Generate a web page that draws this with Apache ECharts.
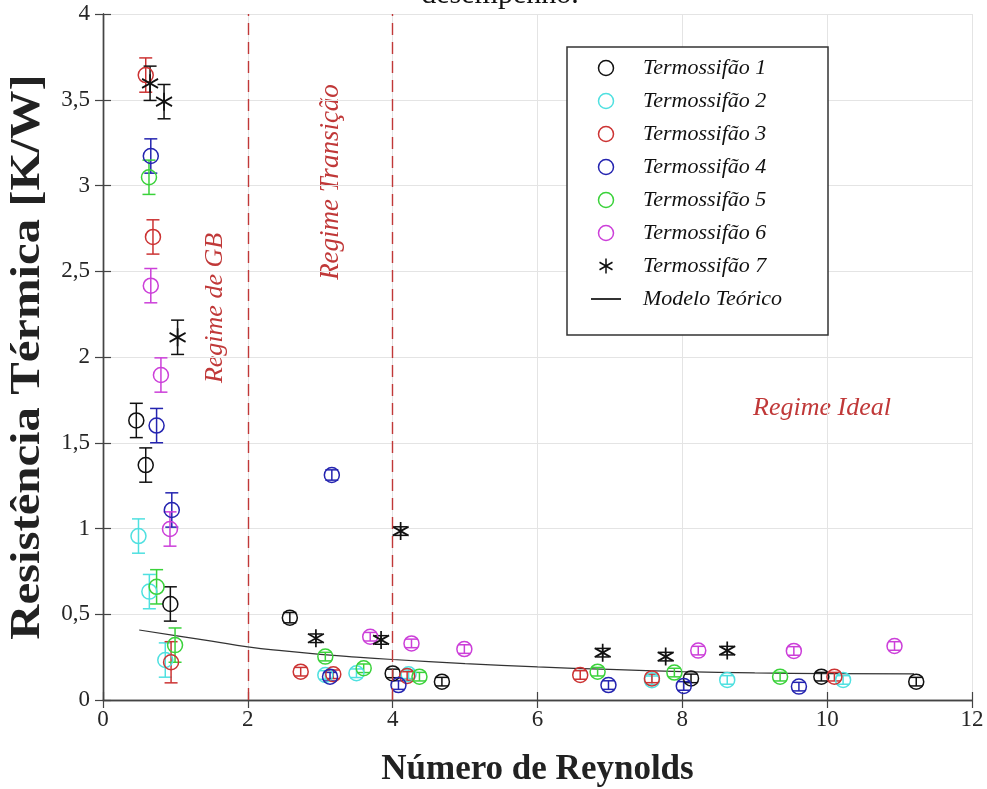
<!DOCTYPE html>
<html>
<head>
<meta charset="utf-8">
<script src="https://cdn.jsdelivr.net/npm/echarts@6/dist/echarts.min.js"></script>
<style>
  html, body { margin: 0; padding: 0; background: #ffffff; }
  #chart { width: 987px; height: 789px; }
</style>
</head>
<body>
<div id="chart"></div>
<script>
// Measured points: [Reynolds number, thermal resistance K/W, uncertainty]
const termo1 = [[0.46, 1.63, 0.1], [0.59, 1.37, 0.1], [0.93, 0.56, 0.1], [2.58, 0.48, 0.03], [4.0, 0.155, 0.025], [4.68, 0.107, 0.025], [8.12, 0.126, 0.025], [9.92, 0.136, 0.025], [11.23, 0.107, 0.025]];
const termo2 = [[0.49, 0.956, 0.1], [0.64, 0.632, 0.1], [0.86, 0.233, 0.1], [3.07, 0.146, 0.025], [3.50, 0.156, 0.025], [4.22, 0.15, 0.025], [7.58, 0.115, 0.025], [8.62, 0.117, 0.025], [10.22, 0.117, 0.025]];
const termo3 = [[0.59, 3.644, 0.1], [0.69, 2.70, 0.1], [0.94, 0.22, 0.12], [2.73, 0.165, 0.025], [3.18, 0.15, 0.025], [4.20, 0.14, 0.025], [6.59, 0.146, 0.025], [7.58, 0.126, 0.025], [10.10, 0.136, 0.025]];
const termo4 = [[0.66, 3.172, 0.1], [0.74, 1.60, 0.1], [0.95, 1.108, 0.1], [3.16, 1.312, 0.03], [3.135, 0.136, 0.025], [4.08, 0.087, 0.025], [6.98, 0.087, 0.025], [8.02, 0.082, 0.025], [9.61, 0.078, 0.025]];
const termo5 = [[0.635, 3.048, 0.1], [0.74, 0.66, 0.1], [0.995, 0.32, 0.1], [3.07, 0.253, 0.025], [3.60, 0.185, 0.025], [4.37, 0.136, 0.025], [6.83, 0.165, 0.025], [7.89, 0.16, 0.025], [9.35, 0.136, 0.025]];
const termo6 = [[0.66, 2.416, 0.1], [0.80, 1.895, 0.1], [0.925, 0.997, 0.1], [3.69, 0.369, 0.025], [4.26, 0.33, 0.025], [4.99, 0.297, 0.025], [8.22, 0.288, 0.025], [9.54, 0.286, 0.025], [10.93, 0.315, 0.025]];
const termo7 = [[0.65, 3.596, 0.1], [0.843, 3.489, 0.1], [1.03, 2.115, 0.1], [2.94, 0.36, 0.025], [3.84, 0.35, 0.025], [4.11, 0.985, 0.025], [6.90, 0.276, 0.025], [7.77, 0.253, 0.025], [8.62, 0.288, 0.025]];

// Theoretical model curve
const modeloX = [0.5, 1, 1.5, 2, 2.5, 3, 3.5, 4, 5, 6, 7, 8, 9, 10, 11.2];
const modeloY = [0.408, 0.375, 0.343, 0.31, 0.286, 0.266, 0.25, 0.236, 0.212, 0.193, 0.178, 0.166, 0.158, 0.154, 0.152];

// Regime boundaries (Reynolds)
const limitesRegime = [2, 4];

const seriesNames = ['Termossifão 1', 'Termossifão 2', 'Termossifão 3', 'Termossifão 4', 'Termossifão 5', 'Termossifão 6', 'Termossifão 7'];
const seriesData = [termo1, termo2, termo3, termo4, termo5, termo6, termo7];
const seriesColors = ['#111111', '#4fe0e0', '#cc3333', '#2424b0', '#3ad23a', '#cc3fd9', '#111111'];

const SERIF = "'Liberation Serif', 'Times New Roman', serif";
const REGIME_RED = '#c03838';
const ASTERISK = 'path://M0,-10L0,10M-8.66,-5L8.66,5M-8.66,5L8.66,-5';

const chart = echarts.init(document.getElementById('chart'));

function errorBarSeries(data, color) {
  return {
    type: 'custom',
    silent: true,
    z: 3,
    encode: { x: 0, y: 1 },
    data: data,
    renderItem: function (params, api) {
      const x = api.value(0), y = api.value(1), e = api.value(2);
      const top = api.coord([x, y + e]);
      const bot = api.coord([x, y - e]);
      const cw = 6.5;
      const style = { stroke: color, lineWidth: 1.5, fill: null };
      return {
        type: 'group',
        children: [
          { type: 'line', shape: { x1: top[0], y1: top[1], x2: bot[0], y2: bot[1] }, style: style },
          { type: 'line', shape: { x1: top[0] - cw, y1: top[1], x2: top[0] + cw, y2: top[1] }, style: style },
          { type: 'line', shape: { x1: bot[0] - cw, y1: bot[1], x2: bot[0] + cw, y2: bot[1] }, style: style }
        ]
      };
    }
  };
}

const series = [];
seriesData.forEach(function (d, i) {
  series.push(errorBarSeries(d, seriesColors[i]));
});
seriesData.forEach(function (d, i) {
  const isStar = i === 6;
  series.push({
    name: seriesNames[i],
    type: 'scatter',
    z: 4,
    symbol: isStar ? ASTERISK : 'circle',
    symbolSize: isStar ? [16, 18] : 15,
    data: d.map(function (p) { return [p[0], p[1]]; }),
    itemStyle: {
      color: isStar ? seriesColors[i] : 'rgba(0,0,0,0)',
      borderColor: seriesColors[i],
      borderWidth: isStar ? 1.8 : 1.5,
      opacity: 1
    },
    emphasis: { disabled: true }
  });
});
series.push({
  name: 'Modelo Teórico',
  type: 'line',
  z: 2,
  smooth: true,
  symbol: 'none',
  data: modeloX.map(function (x, k) { return [x, modeloY[k]]; }),
  lineStyle: { color: '#333333', width: 1.2 },
  itemStyle: { color: '#333333' },
  markLine: {
    silent: true,
    symbol: ['none', 'none'],
    label: { show: false },
    lineStyle: { color: REGIME_RED, type: [12, 7], width: 1.4 },
    data: limitesRegime.map(function (v) { return { xAxis: v }; })
  }
});

const axisLabelStyle = { fontFamily: SERIF, fontSize: 23, color: '#262626' };
const frameLine = { show: true, lineStyle: { color: '#444444', width: 1.4 } };
const innerTick = { show: true, inside: true, length: 8, lineStyle: { color: '#444444', width: 1.2 } };

const legendNames = seriesNames.map(function (n) { return { name: n }; });
legendNames.push({ name: 'Modelo Teórico', itemStyle: { color: 'rgba(0,0,0,0)', borderWidth: 0 } });

chart.setOption({
  backgroundColor: '#ffffff',
  animation: false,
  grid: { left: 103, right: 15, top: 14, bottom: 89, containLabel: false, outerBoundsMode: 'none' },
  xAxis: [{
    type: 'value', min: 0, max: 12, interval: 2,
    name: 'Número de Reynolds', nameLocation: 'middle', nameGap: 52,
    nameTextStyle: { fontFamily: SERIF, fontWeight: 'bold', fontSize: 35, color: '#222222' },
    axisLine: frameLine, axisTick: innerTick,
    axisLabel: Object.assign({ margin: 8 }, axisLabelStyle),
    splitLine: { show: true, lineStyle: { color: '#e4e4e4', width: 1 } }
  }, {
    type: 'value', min: 0, max: 12, interval: 2, position: 'top',
    axisLine: frameLine, axisTick: innerTick, axisLabel: { show: false }, splitLine: { show: false }
  }],
  yAxis: [{
    type: 'value', min: 0, max: 4, interval: 0.5,
    axisLine: frameLine, axisTick: innerTick,
    axisLabel: Object.assign({
      margin: 13,
      formatter: function (v) { return String(v).replace('.', ','); }
    }, axisLabelStyle),
    splitLine: { show: true, lineStyle: { color: '#e4e4e4', width: 1 } }
  }, {
    type: 'value', min: 0, max: 4, interval: 0.5, position: 'right',
    axisLine: frameLine, axisTick: innerTick, axisLabel: { show: false }, splitLine: { show: false }
  }],
  legend: {
    orient: 'vertical',
    left: 590, top: 56,
    padding: 0,
    itemWidth: 30, itemHeight: 15, itemGap: 9,
    selectedMode: false,
    data: legendNames,
    itemStyle: { borderWidth: 1.5 },
    textStyle: {
      fontFamily: SERIF, fontStyle: 'italic', fontSize: 22, color: '#111111',
      lineHeight: 24, padding: [0, 0, 0, 17]
    }
  },
  graphic: [
    {
      type: 'rect', z: 3, silent: true,
      shape: { x: 567, y: 47, width: 261, height: 288 },
      style: { fill: '#ffffff', stroke: '#333333', lineWidth: 1.5 }
    },
    {
      type: 'text', silent: true, x: 500, y: 10,
      style: { text: 'desempenho.', font: '30px ' + SERIF, fill: '#111111', align: 'center', verticalAlign: 'bottom' }
    },
    {
      // vertical axis title, read bottom to top
      type: 'text', silent: true, x: 28, y: 357, rotation: Math.PI / 2, scaleX: 1.16,
      style: { text: 'Resistência Térmica [K/W]', font: 'bold 42px ' + SERIF, fill: '#222222', align: 'center', verticalAlign: 'middle' }
    },
    {
      type: 'text', silent: true, x: 215, y: 308, rotation: Math.PI / 2,
      style: { text: 'Regime de GB', font: 'italic 26px ' + SERIF, fill: REGIME_RED, align: 'center', verticalAlign: 'middle' }
    },
    {
      type: 'text', silent: true, x: 331, y: 182, rotation: Math.PI / 2,
      style: { text: 'Regime Transição', font: 'italic 27px ' + SERIF, fill: REGIME_RED, align: 'center', verticalAlign: 'middle' }
    },
    {
      type: 'text', silent: true, x: 822, y: 408,
      style: { text: 'Regime Ideal', font: 'italic 26px ' + SERIF, fill: REGIME_RED, align: 'center', verticalAlign: 'middle' }
    }
  ],
  series: series
});
</script>
</body>
</html>
